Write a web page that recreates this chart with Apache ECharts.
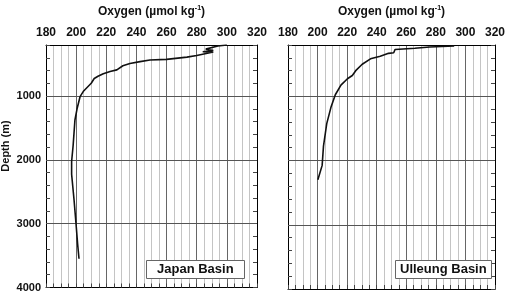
<!DOCTYPE html>
<html>
<head>
<meta charset="utf-8">
<script src="https://cdn.jsdelivr.net/npm/echarts@6/dist/echarts.min.js"></script>
<style>
  html, body { margin: 0; padding: 0; background: #fff; }
  #chart { width: 508px; height: 293px; }
</style>
</head>
<body>
<div id="chart"></div>
<script>
const chart = echarts.init(document.getElementById('chart'));
const font = 'Liberation Sans';

// Japan Basin profile
const japanOxygen = [300, 294, 286, 291, 284, 291, 280, 273.5, 260, 249, 242.4, 235.7, 231, 227,
  222.5, 218, 214.5, 212, 210, 205, 202.6, 200.6, 199.2, 198, 197, 197, 198.6, 200, 201, 201.9];
const japanDepth = [200, 215, 265, 285, 305, 310, 365, 390, 425, 435, 460, 490, 525, 590,
  615, 650, 690, 725, 800, 920, 1010, 1200, 1375, 1775, 2025, 2225, 2625, 3025, 3325, 3550];

// Ulleung Basin profile
const ulleungOxygen = [292.4, 275.8, 265.8, 252.4, 251.5, 248, 242.4, 235.8, 230.2, 225.8,
  223.5, 220.2, 215.8, 212, 209, 206.2, 204, 203.1, 200.2];
const ulleungDepth = [215, 230, 250, 270, 320, 330, 375, 415, 500, 600,
  675, 725, 825, 975, 1175, 1425, 1775, 2075, 2300];

const depthLines = [1000, 2000, 3000];
const basinNames = ['Japan Basin', 'Ulleung Basin'];

function pairs(xs, ys) {
  return xs.map((x, i) => [x, ys[i]]);
}

function topAxis(gridIndex) {
  return {
    type: 'value',
    gridIndex: gridIndex,
    position: 'top',
    min: 180,
    max: 320,
    interval: 20,
    name: 'Oxygen (µmol kg{sup|-1})',
    nameLocation: 'middle',
    nameGap: 27,
    nameTextStyle: {
      fontFamily: font, fontWeight: 'bold', fontSize: 12, color: '#111',
      rich: { sup: { fontFamily: font, fontWeight: 'bold', fontSize: 7, color: '#111', padding: [0, 0, 6, 0] } }
    },
    axisLine: { show: true, lineStyle: { color: '#000', width: 1 } },
    axisTick: { show: false },
    axisLabel: { fontFamily: font, fontWeight: 'bold', fontSize: 12, color: '#111', margin: 6 },
    splitLine: { show: true, lineStyle: { color: '#666', width: 1 } },
    minorTick: { show: false, splitNumber: 4 },
    minorSplitLine: { show: true, lineStyle: { color: '#c4c4c4', width: 1 } }
  };
}

function bottomAxis(gridIndex) {
  return {
    type: 'value',
    gridIndex: gridIndex,
    position: 'bottom',
    min: 180,
    max: 320,
    interval: 20,
    axisLine: { show: true, lineStyle: { color: '#000', width: 1 } },
    axisTick: { show: true, inside: true, length: 4, lineStyle: { color: '#444' } },
    minorTick: { show: true, splitNumber: 4, length: 4, lineStyle: { color: '#444' } },
    axisLabel: { show: false },
    splitLine: { show: false }
  };
}

function depthAxis(gridIndex, position, withLabels) {
  return {
    type: 'value',
    gridIndex: gridIndex,
    position: position,
    inverse: true,
    min: 200,
    max: 4000,
    interval: 200,
    axisLine: { show: true, lineStyle: { color: '#000', width: 1 } },
    axisTick: { show: true, inside: true, length: 4, lineStyle: { color: '#444' } },
    axisLabel: {
      show: withLabels,
      interval: 0,
      margin: 5,
      fontFamily: font, fontWeight: 'bold', fontSize: 11, color: '#111',
      formatter: (v) => (v % 1000 === 0 ? String(v) : '')
    },
    splitLine: { show: false }
  };
}

function profileSeries(name, xs, ys, axisIndex) {
  return {
    name: name,
    type: 'line',
    xAxisIndex: axisIndex,
    yAxisIndex: axisIndex,
    data: pairs(xs, ys),
    showSymbol: false,
    symbol: 'none',
    lineStyle: { color: '#111', width: 1.6 },
    markLine: {
      silent: true,
      symbol: 'none',
      label: { show: false },
      lineStyle: { color: '#555', width: 1, type: 'solid' },
      data: depthLines.map((d) => ({ yAxis: d }))
    },
    z: 5
  };
}

function basinBox(text, left, padX) {
  return {
    text: text,
    left: left,
    top: 260,
    padding: [2, padX, 2, padX],
    borderColor: '#666',
    borderWidth: 1,
    backgroundColor: '#fff',
    textStyle: { fontFamily: font, fontWeight: 'bold', fontSize: 13, color: '#111', lineHeight: 15 }
  };
}

chart.setOption({
  backgroundColor: '#fff',
  animation: false,
  title: [
    basinBox(basinNames[0], 146, 11),
    basinBox(basinNames[1], 395, 5)
  ],
  // Depth label sits above the grid's middle in the original
  graphic: [{
    type: 'text',
    x: 6,
    y: 146,
    rotation: Math.PI / 2,
    style: {
      text: 'Depth (m)',
      align: 'center',
      verticalAlign: 'middle',
      fontFamily: font,
      fontWeight: 'bold',
      fontSize: 11,
      fill: '#111'
    }
  }],
  grid: [
    { left: 46, right: 251, top: 35, bottom: 4 },
    { left: 288, right: 10, top: 35, bottom: 4 }
  ],
  xAxis: [topAxis(0), topAxis(1), bottomAxis(0), bottomAxis(1)],
  yAxis: [
    depthAxis(0, 'left', true),
    depthAxis(1, 'left', false),
    depthAxis(0, 'right', false),
    depthAxis(1, 'right', false)
  ],
  series: [
    profileSeries(basinNames[0], japanOxygen, japanDepth, 0),
    profileSeries(basinNames[1], ulleungOxygen, ulleungDepth, 1)
  ]
});
</script>
</body>
</html>
